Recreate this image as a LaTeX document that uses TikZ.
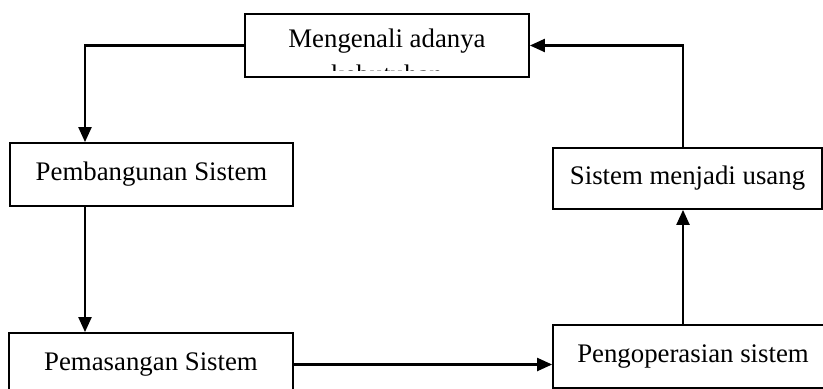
\documentclass[tikz,border=0pt]{standalone}
\usepackage{fontspec}
\setmainfont{Liberation Serif}
\usetikzlibrary{arrows.meta}

\tikzset{
	kotak/.style={draw,line width=0.9pt,inner sep=0pt},
	teks/.style={font=\fontsize{13.4pt}{16pt}\selectfont,inner sep=0pt},
	panah/.style={line width=1.1pt,-{Triangle[length=7.5pt,width=6.5pt]}}
}

\begin{document}
\begin{tikzpicture}[x=0.5pt,y=-0.5pt]
	\useasboundingbox (0,0) rectangle (823,389);
	% kotak-kotak tahapan
	\node[kotak,minimum width=142pt,minimum height=31.5pt] (kenali) at (387,45.5) {};
	\node[teks,anchor=base] (kenalia) at (387,48) {Mengenali adanya};
	\begin{scope}
		\clip ([yshift=3.5pt]kenali.south west) rectangle (kenali.north east);
		\node[teks,anchor=base] (kenalib) at (387,84) {kebutuhan};
	\end{scope}
	\node[kotak,minimum width=141.5pt,minimum height=31.5pt,teks,draw] (bangun) at (151.5,174.5) {Pembangunan Sistem};
	\node[kotak,minimum width=142pt,minimum height=31.5pt,teks,draw] (pasang) at (151,364.5) {Pemasangan Sistem};
	\node[kotak,minimum width=140pt,minimum height=31.5pt,teks,draw] (operasi) at (693,356.5) {Pengoperasian sistem};
	\node[kotak,minimum width=134.5pt,minimum height=30.5pt,teks,draw] (usang) at (687.5,178.5) {Sistem menjadi usang};
	% panah
	\draw[panah] (kenali.west) -| ([xshift=-33.25pt]bangun.north);
	\draw[panah] ([xshift=-33.25pt]bangun.south) -- ([xshift=-33pt]pasang.north);
	\draw[panah] (pasang.east) -- (pasang.east -| operasi.west);
	\draw[panah] ([xshift=-5pt]operasi.north) -- ([xshift=-2.25pt]usang.south);
	\draw[panah] ([xshift=-2.25pt]usang.north) |- (kenali.east);
\end{tikzpicture}
\end{document}
